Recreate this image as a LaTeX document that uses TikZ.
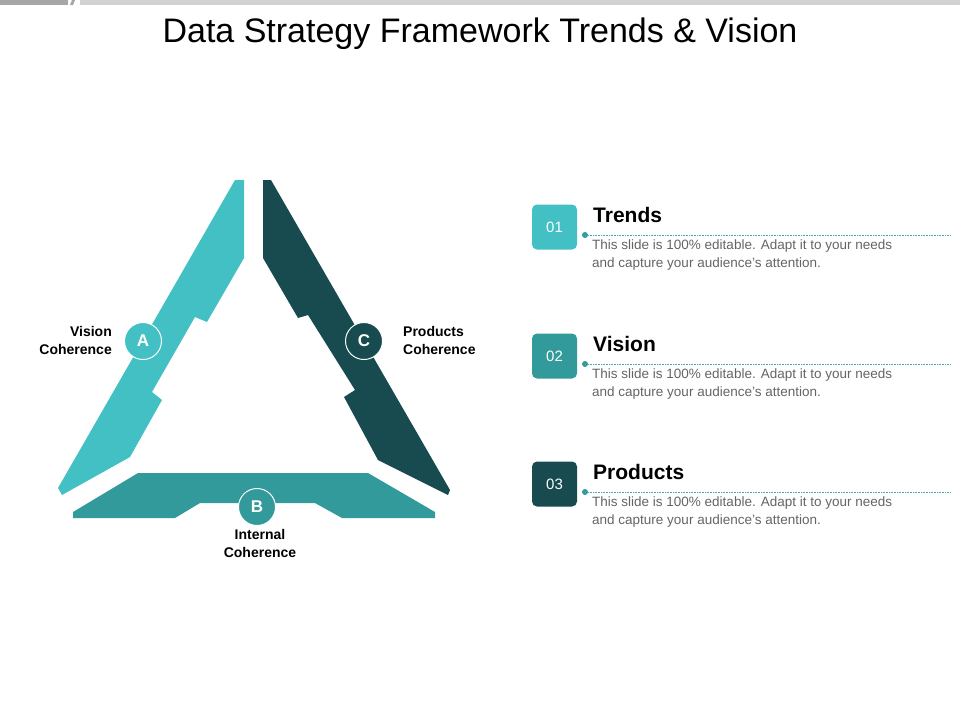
\documentclass[tikz,border=0pt]{standalone}
\usepackage{fontspec}
\setmainfont{Liberation Sans}
\definecolor{colA}{RGB}{66,192,196}
\definecolor{colB}{RGB}{50,154,155}
\definecolor{colC}{RGB}{23,75,79}
\definecolor{bodygray}{RGB}{100,100,100}
\definecolor{dotc}{RGB}{66,170,175}
\begin{document}
\begin{tikzpicture}[x=1pt,y=-1pt,
  cA/.style={fill=colA},
  cB/.style={fill=colB},
  cC/.style={fill=colC},
  circ/.style={circle,draw=white,line width=1pt,minimum size=37pt,inner sep=0pt,text=white,font=\fontsize{17}{17}\selectfont\bfseries},
  lab/.style={font=\fontsize{14}{18}\selectfont\bfseries,inner sep=0pt},
  badge/.style={rounded corners=5pt,minimum size=45pt,inner sep=0pt,text=white,font=\fontsize{15}{15}\selectfont},
  ttl/.style={anchor=base west,font=\fontsize{21}{21}\selectfont\bfseries,inner sep=0pt},
  body/.style={anchor=north west,align=left,text=bodygray,font=\fontsize{13.5}{18}\selectfont,inner sep=0pt},
  dline/.style={densely dotted,line width=0.6pt,draw=dotc}]
\useasboundingbox (0,0) rectangle (960,720);
% top bar
\fill[gray!70] (0,0) rectangle (68,5);
\fill[gray!70] (70,5) -- (72,0) -- (75,0) -- (73,5) -- cycle;
\fill[gray!35] (80,0) rectangle (960,5);
\node[font=\fontsize{34}{34}\selectfont] (title) at (480,34) {Data Strategy Framework Trends \& Vision};
% triangle pieces
\fill[cA] (235,180) -- (244,180) -- (244,258) -- (207,322) -- (195,317) -- (152,392) -- (162,400) -- (130,457) -- (62,495) -- (58,488) -- cycle;
\fill[cC] (263,180) -- (271,180) -- (450,490) -- (448,495) -- (378,460) -- (344,397) -- (355,390) -- (308,315) -- (298,318) -- (263,258) -- cycle;
\fill[cB] (138,473) -- (368,473) -- (435,512) -- (435,518) -- (342,518) -- (315,503) -- (200,503) -- (175,518) -- (73,518) -- (73,512) -- cycle;
\node[circ,cA] (A) at (143,341) {A};
\node[circ,cC] (C) at (364,341) {C};
\node[circ,cB] (B) at (257,507) {B};
\node[lab,align=right,anchor=east] (la) at (112,340) {Vision\\Coherence};
\node[lab,align=left,anchor=west] (lc) at (403,340) {Products\\Coherence};
\node[lab,align=center,anchor=north] (lb) at (260,529) {Internal\\Coherence};
% right list
\foreach \i/\n/\t/\y/\c in {1/01/Trends/227/cA,2/02/Vision/356/cB,3/03/Products/484/cC}{
  \node[badge,\c] (b\i) at (554.5,\y) {\n};
  \node[ttl] (t\i) at (593,\y-5) {\t};
  \fill[colB] (585,\y+8) circle (3);
  \coordinate (s\i) at (585,\y+8);
  \coordinate (e\i) at (950,\y+8);
  \draw[dline] (s\i) -- (e\i);
  \node[body] (d\i) at (592,\y+13) {This slide is 100\% editable. Adapt it to your needs\\and capture your audience's attention.};
}
\end{tikzpicture}
\end{document}
